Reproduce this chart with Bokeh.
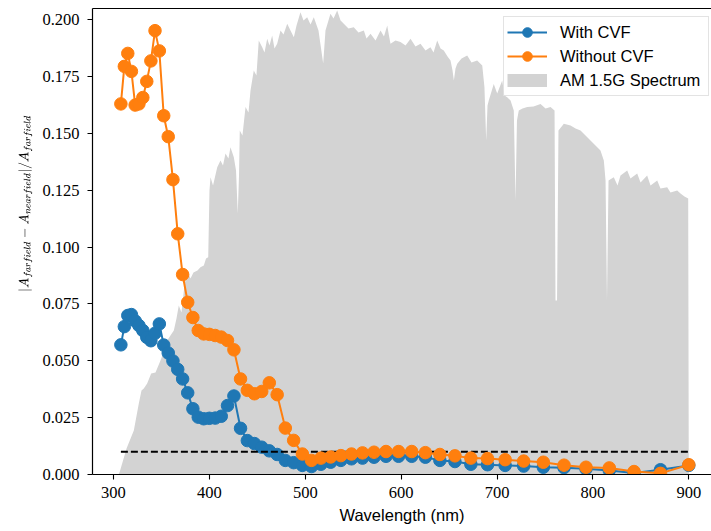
from bokeh.plotting import figure
from bokeh.models import (Range1d, LinearAxis, Legend, LegendItem, FixedTicker,
                          PrintfTickFormatter)
from bokeh.embed import file_html
from bokeh.resources import INLINE

# ---------------- data ----------------
wavelength_nm = [307.7, 311.3, 314.9, 318.7, 322.6, 326.5, 330.6, 334.7, 339.0, 343.3,
                 347.8, 352.4, 357.1, 362.0, 367.0, 372.1, 377.4, 382.8, 388.4, 394.1,
                 400.0, 406.1, 412.4, 418.9, 425.6, 432.5, 439.6, 447.0, 454.6, 462.5,
                 470.7, 479.2, 487.9, 497.0, 506.5, 516.3, 526.5, 537.1, 548.2, 559.7,
                 571.7, 584.2, 597.3, 611.0, 625.3, 640.4, 656.1, 672.7, 690.1, 708.5,
                 727.8, 748.3, 769.9, 792.8, 817.1, 842.9, 870.5, 900.0]

with_cvf = [0.0570, 0.0650, 0.0699, 0.0703, 0.0675, 0.0655, 0.0633, 0.0603, 0.0588, 0.0621,
            0.0662, 0.0569, 0.0534, 0.0499, 0.0462, 0.0420, 0.0359, 0.0289, 0.0252, 0.0245,
            0.0247, 0.0248, 0.0256, 0.0303, 0.0345, 0.0203, 0.0149, 0.0136, 0.0120, 0.0104,
            0.0088, 0.0062, 0.0052, 0.0040, 0.0035, 0.0045, 0.0054, 0.0062, 0.0069, 0.0072,
            0.0076, 0.0080, 0.0080, 0.0080, 0.0076, 0.0062, 0.0057, 0.0045, 0.0043, 0.0040,
            0.0037, 0.0032, 0.0030, 0.0025, 0.0018, 0.0007, 0.0021, 0.0040]

without_cvf = [0.1629, 0.1794, 0.1851, 0.1772, 0.1624, 0.1629, 0.1657, 0.1728, 0.1818, 0.1951,
               0.1862, 0.1577, 0.1485, 0.1296, 0.1058, 0.0879, 0.0757, 0.0690, 0.0633, 0.0618,
               0.0616, 0.0611, 0.0604, 0.0589, 0.0548, 0.0420, 0.0370, 0.0355, 0.0365, 0.0403,
               0.0351, 0.0204, 0.0150, 0.0090, 0.0062, 0.0072, 0.0077, 0.0083, 0.0090, 0.0095,
               0.0098, 0.0101, 0.0101, 0.0101, 0.0096, 0.0088, 0.0082, 0.0072, 0.0070, 0.0065,
               0.0059, 0.0054, 0.0041, 0.0032, 0.0029, 0.0013, 0.0005, 0.0043]

threshold = 0.01

# AM 1.5G spectrum (scaled), envelope
spectrum_wl = [305.2, 306.6, 313.6, 321.2, 326.4, 329.2, 331.6, 335.1, 339.3, 343.8,
               349.0, 352.1, 356.0, 359.4, 362.9, 365.7, 368.1, 370.9, 374.0, 376.9,
               380.3, 383.4, 387.6, 390.7, 394.2, 396.5, 398.8, 400.1, 401.2, 403.8,
               408.2, 411.6, 414.2, 416.8, 419.9, 422.0, 425.5, 427.8, 429.6, 430.9,
               431.7, 434.5, 437.7, 440.8, 442.9, 446.3, 449.1, 451.5, 455.1, 457.5,
               460.3, 462.7, 465.5, 467.9, 470.7, 474.2, 477.3, 481.2, 484.6, 488.1,
               490.9, 495.0, 498.2, 502.0, 505.5, 508.9, 513.8, 518.7, 521.1, 526.3,
               529.5, 533.3, 536.8, 540.2, 545.1, 550.6, 555.5, 561.1, 563.9, 568.1,
               573.3, 578.5, 582.1, 585.5, 587.3, 588.9, 594.1, 599.3, 604.6, 609.8,
               615.0, 620.2, 625.4, 630.6, 633.8, 637.6, 641.1, 644.5, 648.4, 651.5,
               653.6, 655.0, 656.7, 658.5, 663.0, 668.9, 673.4, 679.3, 684.6, 686.9,
               688.7, 690.1, 691.4, 696.6, 700.2, 705.4, 707.8, 710.6, 714.1, 717.5,
               719.3, 720.8, 722.7, 726.6, 731.5, 738.1, 745.4, 750.6, 755.8, 760.0,
               761.0, 762.6, 764.1, 769.7, 776.7, 781.9, 787.1, 792.3, 797.5, 802.7,
               807.9, 811.4, 813.2, 814.7, 816.3, 821.8, 825.7, 828.8, 835.8, 839.2,
               846.2, 849.7, 856.6, 860.1, 867.1, 870.5, 877.5, 880.9, 887.9, 891.4,
               895.5, 899.4, 900.0]
spectrum_val = [0.0, 0.0013, 0.0114, 0.0193, 0.0312, 0.0369, 0.0378, 0.0400, 0.0444, 0.0448,
                0.0501, 0.0536, 0.0589, 0.0611, 0.0633, 0.0686, 0.0743, 0.0712, 0.0831, 0.0897,
                0.0862, 0.0888, 0.0897, 0.0911, 0.0919, 0.0949, 0.0955, 0.1248, 0.1307, 0.1270,
                0.1351, 0.1380, 0.1358, 0.1411, 0.1389, 0.1439, 0.1395, 0.1336, 0.1147, 0.1314,
                0.1512, 0.1490, 0.1615, 0.1591, 0.1688, 0.1776, 0.1754, 0.1908, 0.1878, 0.1855,
                0.1915, 0.1886, 0.1930, 0.1873, 0.1893, 0.1952, 0.1934, 0.1981, 0.1952, 0.1922,
                0.1974, 0.2032, 0.1996, 0.2010, 0.1978, 0.2010, 0.1952, 0.1807, 0.1952, 0.2025,
                0.2004, 0.2040, 0.1996, 0.1981, 0.1960, 0.1966, 0.1943, 0.1952, 0.1916, 0.1937,
                0.1908, 0.1952, 0.1925, 0.1974, 0.1930, 0.1893, 0.1908, 0.1901, 0.1886, 0.1915,
                0.1881, 0.1893, 0.1864, 0.1878, 0.1855, 0.1908, 0.1873, 0.1864, 0.1837, 0.1820,
                0.1776, 0.1732, 0.1785, 0.1805, 0.1829, 0.1842, 0.1811, 0.1820, 0.1798, 0.1702,
                0.1468, 0.1622, 0.1644, 0.1717, 0.1675, 0.1732, 0.1666, 0.1658, 0.1644, 0.1600,
                0.1204, 0.1556, 0.1600, 0.1609, 0.1615, 0.1618, 0.1629, 0.1609, 0.1615, 0.1600,
                0.0765, 0.0765, 0.1512, 0.1542, 0.1534, 0.1521, 0.1512, 0.1490, 0.1468, 0.1446,
                0.1424, 0.1380, 0.1292, 0.0765, 0.1292, 0.1307, 0.1270, 0.1314, 0.1336, 0.1301,
                0.1323, 0.1284, 0.1314, 0.1270, 0.1292, 0.1257, 0.1263, 0.1240, 0.1248, 0.1235,
                0.1222, 0.1213, 0.0]

x_ticks = [300, 400, 500, 600, 700, 800, 900]
y_ticks = [0.0, 0.025, 0.05, 0.075, 0.1, 0.125, 0.15, 0.175, 0.2]

# ---------------- styling ----------------
BLUE = "#1f77b4"
ORANGE = "#ff7f0e"
GREY = "#d3d3d3"
SERIF = "Liberation Serif"
SANS = "Liberation Sans"

p = figure(width=711, height=531, output_backend="svg", toolbar_location=None,
           x_range=Range1d(278.1, 923.7), y_range=Range1d(0.0, 0.20484),
           min_border_left=92, min_border_right=0, min_border_top=8,
           min_border_bottom=57, background_fill_color="white",
           border_fill_color="white", outline_line_color=None)

p.xgrid.visible = False
p.ygrid.visible = False

for axes in (p.xaxis, p.yaxis):
    axes.axis_line_color = "black"
    axes.axis_line_width = 1.2
    axes.major_tick_line_color = "black"
    axes.major_tick_line_width = 1.1
    axes.major_tick_out = 5
    axes.major_tick_in = 0
    axes.minor_tick_line_color = None
    axes.major_label_text_font = SERIF
    axes.major_label_text_font_size = "16.5px"
    axes.major_label_text_color = "black"
    axes.axis_label_text_font_style = "normal"
    axes.axis_label_text_color = "black"

p.xaxis.ticker = FixedTicker(ticks=x_ticks)
p.yaxis.ticker = FixedTicker(ticks=y_ticks)
p.yaxis.formatter = PrintfTickFormatter(format="%.3f")

p.xaxis.axis_label = "Wavelength (nm)"
p.xaxis.axis_label_text_font = SANS
p.xaxis.axis_label_text_font_size = "16.5px"
p.xaxis.major_label_standoff = 7
p.xaxis.axis_label_standoff = 5

p.yaxis.axis_label = r"$$\hspace{5.6em}|A_{far field} - A_{near field}|/A_{far field}$$"
p.yaxis.axis_label_text_font_size = "11.5px"
p.yaxis.major_label_standoff = 8
p.yaxis.axis_label_standoff = 7

# top spine
top_axis = LinearAxis(ticker=FixedTicker(ticks=[]), axis_line_color="black",
                      axis_line_width=1.2, major_tick_line_color=None,
                      minor_tick_line_color=None, major_tick_out=0, major_tick_in=0,
                      minor_tick_out=0, minor_tick_in=0, major_label_standoff=0)
p.add_layout(top_axis, "above")

# ---------------- glyphs ----------------
spec = p.varea(x=spectrum_wl, y1=0, y2=spectrum_val, fill_color=GREY)
# legend swatch for the spectrum (a single undefined point: draws nothing in the plot)
spec_swatch = p.line(x=[float("nan")], y=[float("nan")], line_color=GREY,
                     line_width=13, line_cap="butt")

l1 = p.line(wavelength_nm, with_cvf, line_color=BLUE, line_width=2)
s1 = p.scatter(wavelength_nm, with_cvf, size=12.5, fill_color=BLUE, line_color=BLUE)

p.line([wavelength_nm[0], wavelength_nm[-1]], [threshold, threshold],
       line_color="black", line_width=2, line_dash="7 3")

l2 = p.line(wavelength_nm, without_cvf, line_color=ORANGE, line_width=2)
s2 = p.scatter(wavelength_nm, without_cvf, size=12.5, fill_color=ORANGE, line_color=ORANGE)

legend = Legend(items=[LegendItem(label="With CVF", renderers=[l1, s1]),
                       LegendItem(label="Without CVF", renderers=[l2, s2]),
                       LegendItem(label="AM 1.5G Spectrum", renderers=[spec_swatch])],
                location=(411, 378), margin=0, padding=3, spacing=0,
                glyph_width=40, glyph_height=24, label_height=24, label_width=145,
                label_standoff=13,
                label_text_font=SANS, label_text_font_size="16.5px",
                label_text_color="black", border_line_color="#c8c8c8",
                border_line_width=1, background_fill_color="white",
                background_fill_alpha=0.8)
p.add_layout(legend)

open("out.html", "w").write(file_html(p, INLINE))
